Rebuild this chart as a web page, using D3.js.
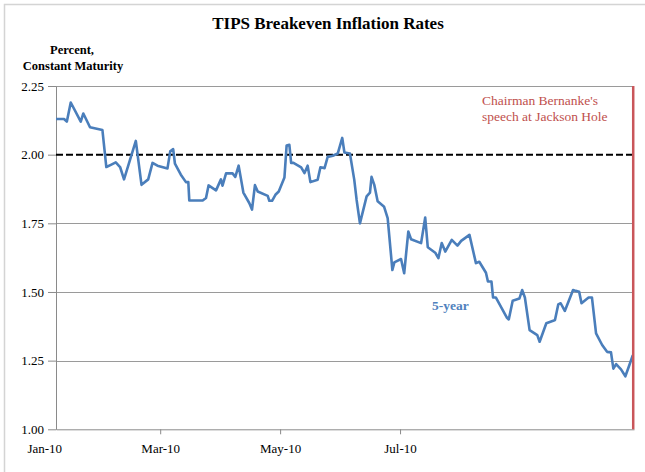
<!DOCTYPE html>
<html>
<head>
<meta charset="utf-8">
<script src="https://cdn.jsdelivr.net/npm/d3@7"></script>
<style>
  html, body { margin: 0; padding: 0; background: #fff; }
  svg { display: block; }
  svg text { font-family: "Liberation Serif", "Times New Roman", Times, serif !important; }
</style>
</head>
<body>
<svg id="chart" width="645" height="472"></svg>
<script>
// ---- Data (days since Jan 1, 2010 ; percent) ----
const days = [6,10.1,11.5,13.5,18.6,19.9,23.3,29.6,31.6,33.9,36.4,38.6,40.6,46.6,49.5,52.9,55.1,57.6,62.7,64.1,65.6,66.5,69.5,72.1,73.3,73.8,80.6,
  82.3,83.6,87.4,89.9,90.7,92.5,95.8,97.2,98.9,101.3,104.3,105.7,107.2,108.6,113.7,114.5,115.9,117.6,119.3,122.2,123.3,124.7,125.6,126.8,130.7,132.4,134.0,135.4,139.1,140.5,142.6,144.2,146.8,149.3,151.6,152.7,
  155.5,157.7,158.9,160.6,164.0,165.7,166.5,167.9,169.6,172.9,174.7,177.1,178.1,181.5,183.1,185.2,186.6,191.7,193.8,195.1,198.9,200.5,202.2,204.0,207.3,210.2,212.1,216.3,
  219.6,221.3,224.7,225.7,227.5,228.3,229.7,235.4,236.3,238.3,241.7,243.1,244.5,246.9,250.8,252.0,255.4,258.9,259.8,261.5,262.7,264.8,267.0,269.0,270.4,272.1,273.3,276.9,278.6,280.7,283.8,286.3,288.3,289.5,290.9,293.4,295.6,297.3,299.4];
const fiveYear = [2.13,2.13,2.12,2.19,2.12,2.15,2.10,2.09,1.955,1.963,1.972,1.955,1.91,2.05,1.89,1.91,1.97,1.96,1.95,2.012,2.02,1.967,1.927,1.90,1.90,1.833,1.833,
  1.842,1.888,1.87,1.91,1.887,1.932,1.932,1.919,1.96,1.862,1.824,1.80,1.889,1.866,1.85,1.832,1.832,1.854,1.866,1.917,2.033,2.036,1.97,1.97,1.954,1.933,1.96,1.90,1.909,1.954,1.951,1.992,1.996,2.004,2.061,2.008,
  2.004,1.909,1.836,1.75,1.848,1.862,1.919,1.89,1.83,1.81,1.769,1.58,1.608,1.62,1.568,1.72,1.692,1.678,1.771,1.663,1.643,1.623,1.678,1.647,1.69,1.669,1.686,1.708,
  1.605,1.61,1.57,1.538,1.538,1.48,1.48,1.406,1.40,1.468,1.476,1.507,1.48,1.361,1.343,1.319,1.386,1.395,1.398,1.455,1.459,1.431,1.471,1.507,1.504,1.501,1.459,1.48,1.48,1.349,1.307,1.282,1.28,1.221,1.237,1.218,1.193,1.227,1.27];

const xTickDays   = [0, 59, 120, 181];
const xTickLabels = ["Jan-10", "Mar-10", "May-10", "Jul-10"];
const yTicks = [1.00, 1.25, 1.50, 1.75, 2.00, 2.25];
const gridValues = [1.25, 1.50, 1.75, 2.25];
const referenceLevel = 2.00;
const eventDay = 299.6;
const xDomain = [6, 300];
const yDomain = [1.00, 2.25];

const FONT = '"Liberation Serif", "Times New Roman", Times, serif';
const svg = d3.select("#chart").attr("font-family", FONT);
const plotLeft = 56, plotRight = 634, plotTop = 86, plotBottom = 429.3;

const x = d3.scaleLinear().domain(xDomain).range([plotLeft, plotRight]);
const y = d3.scaleLinear().domain(yDomain).range([plotBottom, plotTop]);

// outer frame
svg.append("rect").attr("x", 4.5).attr("y", 4.5).attr("width", 700).attr("height", 700)
  .attr("fill", "none").attr("stroke", "#d4d4d4").attr("stroke-width", 1.5);

// gridlines
svg.append("g").selectAll("line").data(gridValues).join("line")
  .attr("x1", plotLeft).attr("x2", plotRight)
  .attr("y1", d => Math.round(y(d)) + 0.5).attr("y2", d => Math.round(y(d)) + 0.5)
  .attr("stroke", "#9a9a9a").attr("stroke-width", 1);

// y axis
const yAxis = d3.axisLeft(y).tickValues(yTicks).tickFormat(d3.format(".2f"))
  .tickSize(8).tickSizeOuter(0).tickPadding(4);
const gy = svg.append("g").attr("transform", `translate(${plotLeft},0)`).call(yAxis)
  .attr("font-family", FONT);
gy.select(".domain").attr("stroke", "#8a8a8a");
gy.selectAll(".tick line").attr("stroke", "#8a8a8a");
gy.selectAll(".tick text").attr("font-size", 13).attr("fill", "#000");

// x axis
const xAxis = d3.axisBottom(x).tickValues(xTickDays)
  .tickFormat((d, i) => xTickLabels[i]).tickSize(5).tickSizeOuter(0).tickPadding(9);
const gx = svg.append("g").attr("transform", `translate(0,${plotBottom})`).call(xAxis)
  .attr("font-family", FONT);
gx.select(".domain").attr("stroke", "#8a8a8a");
gx.selectAll(".tick line").attr("stroke", "#8a8a8a")
  .attr("display", d => (d >= xDomain[0] && d <= xDomain[1]) ? null : "none");
gx.selectAll(".tick text").attr("font-size", 13).attr("fill", "#000");

// 2.00 reference dashed line
svg.append("line")
  .attr("x1", plotLeft).attr("x2", plotRight)
  .attr("y1", y(referenceLevel)).attr("y2", y(referenceLevel))
  .attr("stroke", "#000").attr("stroke-width", 2).attr("stroke-dasharray", "7,3");

// data line
const series = days.map((d, i) => [d, fiveYear[i]]);
svg.append("path").datum(series)
  .attr("fill", "none").attr("stroke", "#4a7ebb").attr("stroke-width", 2.6)
  .attr("stroke-linejoin", "round")
  .attr("d", d3.line().x(d => x(d[0])).y(d => y(d[1])));

// event line
svg.append("line")
  .attr("x1", x(eventDay)).attr("x2", x(eventDay))
  .attr("y1", plotTop).attr("y2", plotBottom)
  .attr("stroke", "#c9565a").attr("stroke-width", 2.5);

// texts
function label(px, py, str, size, weight, color, anchor) {
  svg.append("text").attr("x", px).attr("y", py)
    .attr("text-anchor", anchor || "start")
    .attr("font-family", FONT)
    .attr("font-size", size).attr("font-weight", weight).attr("fill", color)
    .text(str);
}
label(328, 29, "TIPS Breakeven Inflation Rates", 17, "bold", "#000", "middle");
label(72, 54, "Percent,", 12.5, "bold", "#000", "middle");
label(73, 69.5, "Constant Maturity", 12.5, "bold", "#000", "middle");
label(432, 310, "5-year", 13.5, "bold", "#4f81bd");
label(482, 105, "Chairman Bernanke's", 13.5, "normal", "#c0504d");
label(482, 121, "speech at Jackson Hole", 13.5, "normal", "#c0504d");
</script>
</body>
</html>
